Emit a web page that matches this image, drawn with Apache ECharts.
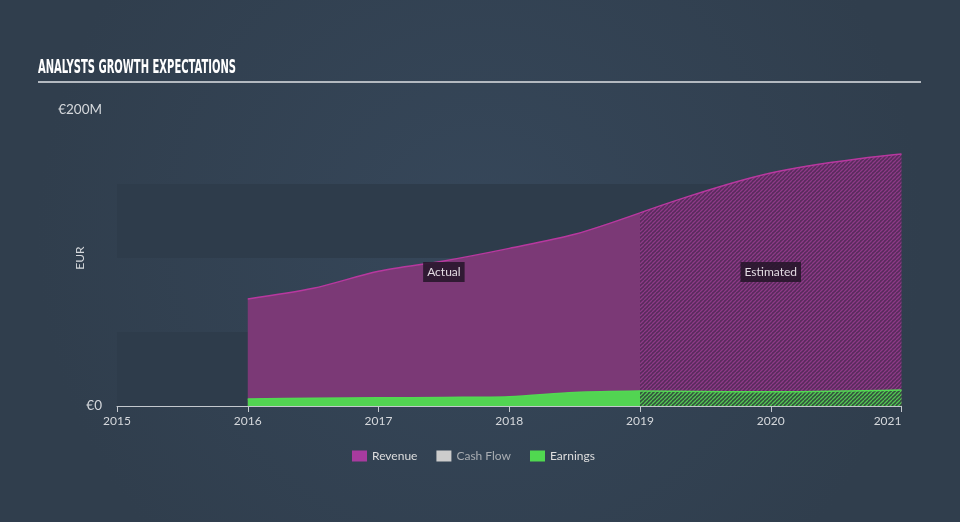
<!DOCTYPE html>
<html>
<head>
<meta charset="utf-8">
<script src="https://cdn.jsdelivr.net/npm/echarts@6/dist/echarts.min.js"></script>
<style>
html,body{margin:0;padding:0;background:#334354;}
#main{width:960px;height:522px;}
</style>
</head>
<body>
<div id="main"></div>
<script>
// ---- data ----
const titleText = 'ANALYSTS GROWTH EXPECTATIONS';
const xTicks = [2015, 2016, 2017, 2018, 2019, 2020, 2021];
const actualYears = [2016, 2016.5, 2017, 2017.5, 2018, 2018.5, 2019];
const revenueActual = [72.3, 79.5, 91, 98, 106.5, 116, 130.5];
const earningsActual = [4.7, 5.2, 5.5, 5.8, 6.3, 9.2, 10.2];
const estimateYears = [2019, 2020, 2021];
const revenueEstimate = [130.5, 157.5, 170.2];
const earningsEstimate = [10.2, 9.6, 10.8];
const cashFlow = [];
const yLabels = {0: '€0', 200: '€200M'};
const legendNames = ['Revenue', 'Cash Flow', 'Earnings'];
const periodLabels = ['Actual', 'Estimated'];

// ---- helpers ----
const FONT = 'Lato, "Open Sans", sans-serif';
function hatch(bg, fg, size, lw) {
  const c = document.createElement('canvas');
  c.width = size; c.height = size;
  const g = c.getContext('2d');
  g.fillStyle = bg; g.fillRect(0, 0, size, size);
  g.strokeStyle = fg; g.lineWidth = lw;
  g.beginPath();
  for (let k = -1; k <= 1; k++) {
    g.moveTo(k * size, size);
    g.lineTo(k * size + size, 0);
  }
  g.stroke();
  return {image: c, repeat: 'repeat'};
}
const pair = (xs, ys) => xs.map((x, i) => [x, ys[i]]);

const mctx = document.createElement('canvas').getContext('2d');
const titleFont = 'bold 19px "DejaVu Sans Condensed"';
mctx.font = titleFont;
const titleScale = 198 / mctx.measureText(titleText).width;

const chart = echarts.init(document.getElementById('main'));
const option = {
  backgroundColor: {
    type: 'radial', x: 0.5, y: 0.45, r: 0.85,
    colorStops: [{offset: 0, color: '#36475a'}, {offset: 1, color: '#303e4d'}]
  },
  animation: false,
  textStyle: {fontFamily: FONT},
  graphic: [
    {type: 'text', x: 38, y: 68, scaleX: titleScale,
     style: {text: titleText, font: titleFont, fill: '#ffffff', textAlign: 'left', textVerticalAlign: 'middle'}},
    {type: 'line', shape: {x1: 38, y1: 82, x2: 921, y2: 82},
     style: {stroke: '#b3b9c0', lineWidth: 2}}
  ],
  legend: {
    left: 347, top: 445,
    itemWidth: 15, itemHeight: 11, itemGap: 19,
    icon: 'rect',
    textStyle: {color: '#dedede', fontSize: 12, fontFamily: FONT},
    data: [
      {name: legendNames[0]},
      {name: legendNames[1], textStyle: {color: '#a9adb2'}},
      {name: legendNames[2]}
    ]
  },
  grid: {left: 117, right: 58.5, top: 110, bottom: 116},
  xAxis: {
    type: 'value', min: xTicks[0], max: xTicks[xTicks.length - 1], interval: 1,
    axisLine: {show: true, lineStyle: {color: '#c3c8ce', width: 1}},
    axisTick: {show: true, length: 6, lineStyle: {color: '#c3c8ce'}},
    axisLabel: {color: '#d5d8dc', fontSize: 12, margin: 9, alignMaxLabel: 'right',
      formatter: v => String(v)},
    splitLine: {show: false}
  },
  yAxis: {
    type: 'value', min: 0, max: 200, interval: 50,
    name: 'EUR', nameLocation: 'middle', nameGap: 31, nameMoveOverlap: false,
    nameTextStyle: {color: '#d5d8dc', fontSize: 12},
    axisLine: {show: false}, axisTick: {show: false},
    axisLabel: {color: '#d5d8dc', fontSize: 13.5, margin: 15,
      formatter: v => (yLabels[v] !== undefined ? yLabels[v] : '')},
    splitLine: {show: false},
    splitArea: {show: true, areaStyle: {color: ['#2e3c4b', 'rgba(0,0,0,0)']}}
  },
  series: [
    {
      name: 'Revenue', type: 'line', data: pair(actualYears, revenueActual),
      smooth: 0.3, showSymbol: false, symbol: 'none',
      color: '#a83b9f',
      lineStyle: {color: '#b8389f', width: 1.5},
      areaStyle: {color: '#7b3976', opacity: 1}, z: 2
    },
    {
      name: 'Revenue', type: 'line', data: pair(estimateYears, revenueEstimate),
      smooth: 0.4, showSymbol: false, symbol: 'none',
      color: '#a83b9f',
      lineStyle: {color: '#b8389f', width: 1.5},
      areaStyle: {color: hatch('#582b5c', '#8d3a87', 4, 1.3), opacity: 1}, z: 2
    },
    {
      name: 'Cash Flow', type: 'line', data: cashFlow, color: '#cccccc',
      showSymbol: false, symbol: 'none'
    },
    {
      name: 'Earnings', type: 'line', data: pair(actualYears, earningsActual),
      smooth: 0.3, showSymbol: false, symbol: 'none',
      color: '#50d850',
      lineStyle: {color: '#52d952', width: 1.5},
      areaStyle: {color: '#52d452', opacity: 1}, z: 3
    },
    {
      name: 'Earnings', type: 'line', data: pair(estimateYears, earningsEstimate),
      smooth: 0.4, showSymbol: false, symbol: 'none',
      color: '#50d850',
      lineStyle: {color: '#52d952', width: 1.5},
      areaStyle: {color: hatch('#33503e', '#52c752', 4, 1.3), opacity: 1}, z: 4,
      markArea: {
        silent: true, z: 10,
        itemStyle: {color: 'rgba(0,0,0,0)'},
        label: {
          show: true, position: 'inside', offset: [0, 14],
          color: '#e2dbe2', fontSize: 12, fontFamily: FONT,
          backgroundColor: 'rgba(38,22,42,0.88)', padding: [4, 4, 4, 4]
        },
        data: [
          [{name: periodLabels[0], xAxis: actualYears[0]}, {xAxis: actualYears[actualYears.length - 1]}],
          [{name: periodLabels[1], xAxis: estimateYears[0]}, {xAxis: estimateYears[estimateYears.length - 1]}]
        ]
      }
    }
  ]
};
chart.setOption(option);
</script>
</body>
</html>
